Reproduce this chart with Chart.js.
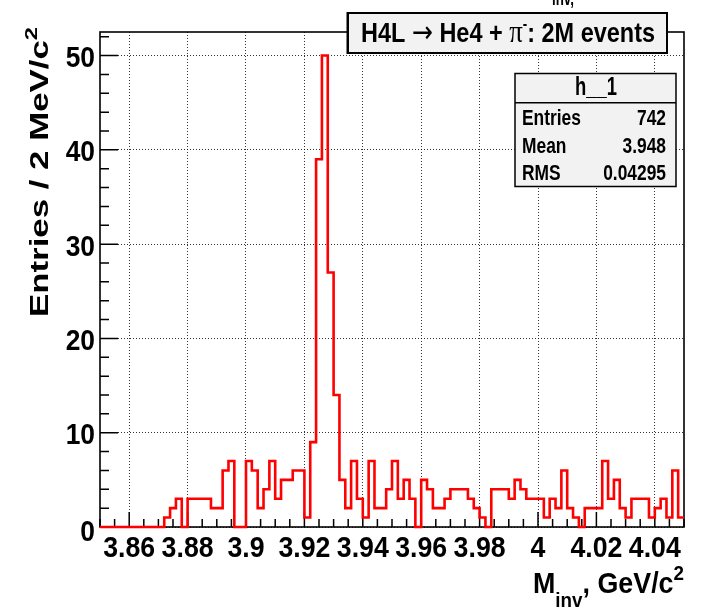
<!DOCTYPE html>
<html lang="en">
  <head>
    <meta charset="UTF-8" />
    <title>H4L invariant mass</title>
    <script src="https://cdn.jsdelivr.net/npm/chart.js@4.4.0/dist/chart.umd.min.js"></script>
    <style>
      html, body { margin: 0; padding: 0; background: #fff; }
      #wrap { width: 713px; height: 608px; position: relative; }
    </style>
  </head>
  <body>
    <div id="wrap"><canvas id="hist"></canvas></div>

    <script>
      // h__1: 100 bins of 2 MeV/c2 between 3.85 and 4.05 GeV/c2
      const binLow = 3.85;
      const binWidth = 0.002;
      const counts = [
        0, 0, 0, 0, 0, 0, 0, 0, 0, 0,
        0, 1, 2, 3, 0, 3, 3, 3, 3, 2,
        2, 6, 7, 0, 0, 7, 6, 2, 4, 7,
        3, 5, 5, 6, 6, 1, 9, 39, 50, 27,
        14, 5, 2, 7, 3, 1, 7, 2, 2, 4,
        7, 3, 5, 3, 0, 5, 4, 2, 2, 3,
        4, 4, 4, 3, 2, 1, 0, 4, 4, 4,
        3, 5, 4, 3, 3, 3, 1, 3, 2, 6,
        2, 1, 0, 2, 2, 2, 7, 3, 5, 2,
        1, 3, 3, 3, 1, 2, 3, 1, 6, 1,
      ];
      const xTicks = [3.86, 3.88, 3.9, 3.92, 3.94, 3.96, 3.98, 4.0, 4.02, 4.04];
      const yTicks = [0, 10, 20, 30, 40, 50];
      const statsLabels = ["Entries", "Mean", "RMS"];
      const statsValues = ["742", "3.948", "0.04295"];

      const FONT = '"Liberation Sans", Arial, Helvetica, sans-serif';
      const SERIF = '"Liberation Serif", "Times New Roman", serif';

      // step outline: one point per low edge plus the last high edge
      const points = counts.map((c, i) => ({ x: binLow + i * binWidth, y: c }));
      points.push({ x: binLow + counts.length * binWidth, y: counts[counts.length - 1] });

      function fontOf(p) {
        return (p.bold === false ? "" : "bold ") + p.size + "px " + (p.family || FONT);
      }

      // draws a row of text pieces, optionally squeezed to a given width
      function drawRich(ctx, parts, x, y, opts) {
        let total = 0;
        parts.forEach((p) => {
          ctx.font = fontOf(p);
          p.w = ctx.measureText(p.t).width;
          total += p.w;
        });
        const sx = opts.width ? opts.width / total : opts.sx || 1;
        let cx = 0;
        if (opts.align === "right") cx = -total;
        if (opts.align === "center") cx = -total / 2;
        ctx.save();
        ctx.translate(x, y);
        ctx.scale(sx, 1);
        ctx.fillStyle = "#000";
        ctx.textBaseline = "alphabetic";
        ctx.textAlign = "left";
        parts.forEach((p) => {
          ctx.font = fontOf(p);
          ctx.fillText(p.t, cx, p.dy || 0);
          cx += p.w;
        });
        ctx.restore();
      }

      function fmt(v) {
        return String(parseFloat(v.toFixed(3)));
      }

      const framePlugin = {
        id: "frame",
        beforeDatasetsDraw(chart) {
          const ctx = chart.ctx;
          const { left, top, right, bottom } = chart.chartArea;
          const xs = chart.scales.x;
          const ys = chart.scales.y;
          ctx.save();
          ctx.strokeStyle = "#000";
          ctx.lineWidth = 1.5;
          ctx.beginPath();
          // x ticks pointing up, minor every 5 MeV
          for (let k = 0; k <= 40; k++) {
            const v = binLow + k * 0.005;
            const px = xs.getPixelForValue(v);
            const major = xTicks.some((t) => Math.abs(t - v) < 1e-6);
            ctx.moveTo(px, bottom);
            ctx.lineTo(px, bottom - (major ? 15 : 8));
          }
          // y ticks pointing right, minor every 2 entries
          for (let v = 0; v <= 52; v += 2) {
            const py = ys.getPixelForValue(v);
            ctx.moveTo(left, py);
            ctx.lineTo(left + (v % 10 === 0 ? 18 : 9), py);
          }
          ctx.stroke();
          ctx.lineWidth = 1.6;
          ctx.strokeRect(left, top, right - left, bottom - top);
          ctx.restore();
        },
        afterDraw(chart) {
          const ctx = chart.ctx;
          const xs = chart.scales.x;
          const ys = chart.scales.y;

          // tick labels
          xTicks.forEach((v) => {
            drawRich(ctx, [{ t: fmt(v), size: 30 }], xs.getPixelForValue(v), 556.5, {
              align: "center",
              sx: 0.89,
            });
          });
          yTicks.forEach((v) => {
            const dy = v === 0 ? 14 : 11.5;
            drawRich(ctx, [{ t: fmt(v), size: 30 }], 95, ys.getPixelForValue(v) + dy, {
              align: "right",
              sx: 0.88,
            });
          });

          // axis titles
          ctx.save();
          ctx.translate(48, 317);
          ctx.rotate(-Math.PI / 2);
          drawRich(
            ctx,
            [
              { t: "Entries / 2 MeV/c", size: 25 },
              { t: "2", size: 17, dy: -11 },
            ],
            0,
            0,
            { align: "left", width: 290 }
          );
          ctx.restore();

          drawRich(
            ctx,
            [
              { t: "M", size: 30 },
              { t: "inv", size: 21, dy: 14 },
              { t: ", GeV/c", size: 30 },
              { t: "2", size: 21, dy: -13 },
            ],
            684,
            593,
            { align: "right", width: 151 }
          );

          // histogram title, mostly above the canvas
          drawRich(ctx, [{ t: "inv,", size: 21 }], 552, 5, { align: "left", width: 22 });

          // title pave
          ctx.save();
          ctx.fillStyle = "#f2f2f2";
          ctx.fillRect(348, 13, 319, 40);
          ctx.strokeStyle = "#000";
          ctx.lineWidth = 2;
          ctx.strokeRect(348, 13, 319, 40);
          ctx.fillStyle = "#000";
          ctx.fillRect(346.5, 12, 2.5, 42);
          ctx.restore();
          drawRich(
            ctx,
            [
              { t: "H4L ", size: 28 },
              { t: "\u2192", size: 30, bold: false, family: '"DejaVu Sans", sans-serif' },
              { t: " He4 + ", size: 28 },
              { t: "\u03c0", size: 32, bold: false, family: SERIF },
              { t: "-", size: 16, dy: -13 },
              { t: ": 2M events", size: 28 },
            ],
            361,
            41.7,
            { align: "left", width: 294 }
          );

          // stats box
          ctx.save();
          ctx.fillStyle = "#f2f2f2";
          ctx.fillRect(515, 73.5, 161, 113);
          ctx.strokeStyle = "#000";
          ctx.lineWidth = 1.5;
          ctx.strokeRect(515, 73.5, 161, 113);
          ctx.beginPath();
          ctx.moveTo(515, 102.7);
          ctx.lineTo(676, 102.7);
          ctx.stroke();
          ctx.restore();
          drawRich(ctx, [{ t: "h__1", size: 25 }], 596, 95, { align: "center", width: 42 });
          const rowBase = [125, 152.7, 180];
          statsLabels.forEach((lab, i) => {
            drawRich(ctx, [{ t: lab, size: 22 }], 522, rowBase[i], { align: "left", sx: 0.79 });
            drawRich(ctx, [{ t: statsValues[i], size: 22 }], 666, rowBase[i], {
              align: "right",
              sx: 0.79,
            });
          });
        },
      };

      new Chart(document.getElementById("hist"), {
        type: "line",
        data: {
          datasets: [
            {
              label: "h__1",
              data: points,
              stepped: "before",
              borderColor: "#ff0000",
              borderWidth: 2.6,
              pointRadius: 0,
              fill: false,
              clip: 4,
            },
          ],
        },
        options: {
          responsive: true,
          maintainAspectRatio: false,
          animation: false,
          devicePixelRatio: 1,
          layout: { padding: { top: 32, right: 29, left: 0, bottom: 0 } },
          plugins: { legend: { display: false }, tooltip: { enabled: false } },
          scales: {
            x: {
              type: "linear",
              min: 3.85,
              max: 4.05,
              afterBuildTicks: (s) => {
                s.ticks = xTicks.map((v) => ({ value: v }));
              },
              afterFit: (s) => {
                s.height = 81;
              },
              ticks: { display: false },
              grid: { color: "rgba(0,0,0,0.8)", lineWidth: 1, drawTicks: false },
              border: { display: false, dash: [1, 2] },
            },
            y: {
              min: 0,
              max: 52.5,
              afterBuildTicks: (s) => {
                s.ticks = yTicks.map((v) => ({ value: v }));
              },
              afterFit: (s) => {
                s.width = 100;
              },
              ticks: { display: false },
              grid: { color: "rgba(0,0,0,0.8)", lineWidth: 1, drawTicks: false },
              border: { display: false, dash: [1, 2] },
            },
          },
        },
        plugins: [framePlugin],
      });
    </script>
  </body>
</html>
